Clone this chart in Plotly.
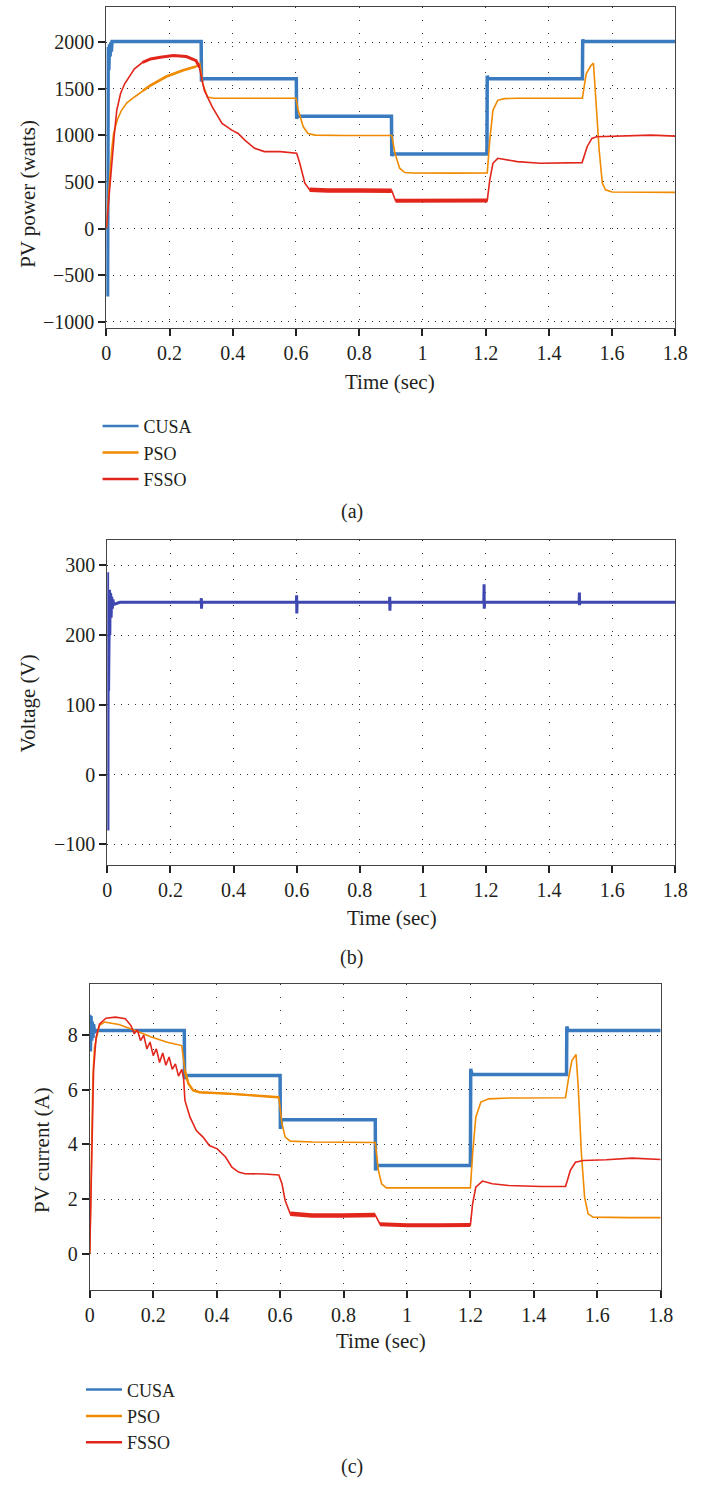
import plotly.graph_objects as go

# ---------------- data ----------------
series_names = ["CUSA", "PSO", "FSSO"]

# (a) PV power (W)
cusa_a_t = [0, 0.004, 0.006, 0.008, 0.010, 0.012, 0.014, 0.016, 0.018, 0.020, 0.300, 0.301, 0.304,
            0.601, 0.602, 0.605, 0.902, 0.903, 0.906, 1.204, 1.205, 1.208, 1.506, 1.507, 1.510, 1.800]
cusa_a_p = [0, -730, 1950, 1700, 1980, 1850, 2000, 1900, 2010, 2010, 2010, 1580, 1610,
            1610, 1180, 1205, 1205, 780, 800, 800, 1640, 1610, 1610, 2030, 2010, 2010]

pso_a_t = [0, 0.005, 0.010, 0.017, 0.023, 0.035, 0.048, 0.065, 0.089, 0.115, 0.14, 0.19, 0.243, 0.284,
           0.296, 0.305, 0.32, 0.34, 0.45, 0.600, 0.607, 0.623, 0.638, 0.66, 0.75, 0.903, 0.913, 0.928,
           0.944, 0.97, 1.1, 1.205, 1.213, 1.223, 1.238, 1.259, 1.3, 1.4, 1.506, 1.518, 1.533, 1.541,
           1.549, 1.559, 1.569, 1.579, 1.6, 1.7, 1.8]
pso_a_p = [0, 250, 550, 850, 1021, 1170, 1270, 1350, 1413, 1480, 1537, 1633, 1700, 1740,
           1770, 1555, 1413, 1400, 1402, 1400, 1270, 1093, 1021, 1003, 1000, 1000, 808, 648,
           601, 596, 595, 598, 950, 1270, 1377, 1395, 1400, 1400, 1400, 1662, 1750, 1776,
           1377, 843, 488, 416, 392, 388, 388]

fsso_a_t = [0, 0.008, 0.017, 0.025, 0.033, 0.045, 0.058, 0.075, 0.089, 0.115, 0.14, 0.171, 0.212, 0.253,
            0.284, 0.294, 0.31, 0.335, 0.366, 0.397, 0.417, 0.438, 0.469, 0.5, 0.55, 0.602, 0.612, 0.628,
            0.643, 0.7, 0.8, 0.903, 0.915, 1.0, 1.1, 1.205, 1.213, 1.223, 1.238, 1.259, 1.3, 1.372, 1.505,
            1.521, 1.536, 1.551, 1.6, 1.682, 1.723, 1.8]
fsso_a_p = [0, 350, 665, 1000, 1270, 1450, 1555, 1650, 1715, 1786, 1822, 1840, 1858, 1847,
            1804, 1733, 1484, 1306, 1128, 1057, 1021, 950, 861, 826, 826, 808, 701, 488,
            416, 409, 409, 405, 299, 300, 300, 300, 523, 701, 754, 744, 719, 701, 708,
            879, 968, 986, 990, 993, 1003, 993]

# (b) Voltage (V)
volt_t = [0, 0.001, 0.002, 0.003, 0.004, 0.005, 0.006, 0.007, 0.008, 0.009, 0.010, 0.011, 0.012,
          0.014, 0.016, 0.018, 0.020, 0.040,
          0.297, 0.298, 0.2985, 0.2995,
          0.599, 0.600, 0.6005, 0.6015,
          0.894, 0.895, 0.8955, 0.8965,
          1.193, 1.194, 1.1945, 1.1955,
          1.495, 1.496, 1.4965, 1.4975, 1.800]
volt_v = [0, 290, -80, 250, 120, 262, 180, 265, 200, 260, 212, 258, 225,
          255, 238, 251, 244, 247,
          247, 253, 238, 247,
          247, 257, 231, 247,
          247, 255, 235, 247,
          247, 273, 238, 247,
          247, 261, 243, 247, 247]

# (c) PV current (A)
cusa_c_t = [0, 0.002, 0.004, 0.006, 0.008, 0.010, 0.012, 0.015, 0.020, 0.298, 0.299, 0.303,
            0.600, 0.601, 0.605, 0.900, 0.901, 0.905, 1.200, 1.201, 1.205, 1.503, 1.504, 1.508, 1.800]
cusa_c_i = [8.75, 7.4, 8.7, 7.8, 8.5, 7.9, 8.4, 8.1, 8.17, 8.17, 6.4, 6.52,
            6.52, 4.57, 4.9, 4.9, 3.05, 3.23, 3.23, 6.77, 6.56, 6.56, 8.32, 8.17, 8.17]

pso_c_t = [0, 0.005, 0.010, 0.015, 0.03, 0.046, 0.092, 0.143, 0.194, 0.244, 0.29, 0.3, 0.311, 0.326,
           0.346, 0.448, 0.55, 0.596, 0.606, 0.616, 0.632, 0.703, 0.9, 0.91, 0.92, 0.935, 1.0, 1.2,
           1.207, 1.217, 1.233, 1.258, 1.32, 1.5, 1.51, 1.52, 1.533, 1.54, 1.55, 1.56, 1.571, 1.587,
           1.7, 1.8]
pso_c_i = [0, 4.27, 6.5, 7.56, 8.35, 8.48, 8.39, 8.17, 7.93, 7.74, 7.62, 6.7, 6.22, 5.98,
           5.91, 5.85, 5.76, 5.73, 4.76, 4.27, 4.12, 4.09, 4.07, 3.05, 2.56, 2.41, 2.41, 2.41,
           3.66, 5.0, 5.55, 5.67, 5.7, 5.71, 6.46, 7.07, 7.29, 6.1, 3.66, 2.07, 1.46, 1.34,
           1.32, 1.32]

fsso_c_t = [0, 0.005, 0.012, 0.02, 0.031, 0.051, 0.081, 0.112, 0.13, 0.14, 0.15, 0.16, 0.17, 0.18,
            0.19, 0.2, 0.21, 0.22, 0.23, 0.24, 0.25, 0.26, 0.27, 0.28, 0.29, 0.296, 0.3, 0.316,
            0.336, 0.357, 0.377, 0.402, 0.428, 0.448, 0.469, 0.489, 0.55, 0.596, 0.606, 0.616,
            0.632, 0.7, 0.8, 0.9, 0.915, 1.0, 1.1, 1.2, 1.207, 1.217, 1.238, 1.269, 1.32, 1.423,
            1.5, 1.515, 1.531, 1.556, 1.628, 1.71, 1.8]
fsso_c_i = [0, 3.05, 6.71, 7.93, 8.41, 8.62, 8.66, 8.6, 8.35, 8.05, 8.2, 7.8, 8.0, 7.5,
            7.75, 7.25, 7.5, 7.0, 7.35, 6.9, 7.2, 6.75, 6.95, 6.5, 6.75, 6.4, 5.61, 5.0,
            4.51, 4.27, 3.96, 3.84, 3.54, 3.17, 2.99, 2.93, 2.92, 2.88, 2.56, 1.95,
            1.46, 1.4, 1.4, 1.42, 1.08, 1.04, 1.04, 1.05, 1.83, 2.44, 2.66, 2.56, 2.5, 2.46,
            2.46, 3.05, 3.35, 3.41, 3.44, 3.5, 3.45]

x_tickvals = [0, 0.2, 0.4, 0.6, 0.8, 1.0, 1.2, 1.4, 1.6, 1.8]
x_ticktext = ["0", "0.2", "0.4", "0.6", "0.8", "1", "1.2", "1.4", "1.6", "1.8"]
ya_ticks = [-1000, -500, 0, 500, 1000, 1500, 2000]
yb_ticks = [-100, 0, 100, 200, 300]
yc_ticks = [0, 2, 4, 6, 8]

# ---------------- style ----------------
W, H = 701, 1488
FONT = "Liberation Serif"
TXT = "#231f20"
C_BLUE = "#3a7bc0"
C_ORANGE = "#f08a00"
C_RED = "#e2261c"
C_VOLT = "#3f47b0"
COLORS = [C_BLUE, C_ORANGE, C_RED]

def px_x(p):
    return p / W

def px_y(p):
    return 1 - p / H

fig = go.Figure()

def add_line(t, y, color, width, xa, ya, name):
    fig.add_trace(go.Scatter(x=t, y=y, mode="lines", name=name, xaxis=xa, yaxis=ya,
                             line=dict(color=color, width=width), showlegend=False,
                             hoverinfo="skip"))

def add_band(t, y, lo, hi, color, width, xa, ya, name):
    sel = [(a, b) for a, b in zip(t, y) if lo <= a <= hi]
    add_line([s[0] for s in sel], [s[1] for s in sel], color, width, xa, ya, name)

def add_legend_entries(xa, ya, legend):
    for nm, col in zip(series_names, COLORS):
        fig.add_trace(go.Scatter(x=[None], y=[None], mode="lines", name=nm, xaxis=xa, yaxis=ya,
                                 line=dict(color=col, width=2.5), legend=legend, showlegend=True,
                                 hoverinfo="skip"))

# panel (a)
add_line(cusa_a_t, cusa_a_p, C_BLUE, 3.5, "x", "y", series_names[0])
add_line(pso_a_t, pso_a_p, C_ORANGE, 1.6, "x", "y", series_names[1])
add_line(fsso_a_t, fsso_a_p, C_RED, 1.6, "x", "y", series_names[2])
add_band(pso_a_t, pso_a_p, 0.1, 0.29, C_ORANGE, 2.6, "x", "y", series_names[1])
add_band(fsso_a_t, fsso_a_p, 0.11, 0.294, C_RED, 3, "x", "y", series_names[2])
add_band(fsso_a_t, fsso_a_p, 0.643, 0.903, C_RED, 4.5, "x", "y", series_names[2])
add_band(fsso_a_t, fsso_a_p, 0.915, 1.205, C_RED, 4, "x", "y", series_names[2])
add_legend_entries("x", "y", "legend")

# panel (b)
add_line(volt_t, volt_v, C_VOLT, 3, "x2", "y2", "Voltage")

# panel (c)
add_line(cusa_c_t, cusa_c_i, C_BLUE, 3.5, "x3", "y3", series_names[0])
add_line(pso_c_t, pso_c_i, C_ORANGE, 1.6, "x3", "y3", series_names[1])
add_line(fsso_c_t, fsso_c_i, C_RED, 1.6, "x3", "y3", series_names[2])
add_band(pso_c_t, pso_c_i, 0.3, 0.6, C_ORANGE, 2.4, "x3", "y3", series_names[1])
add_band(fsso_c_t, fsso_c_i, 0.632, 0.9, C_RED, 4.5, "x3", "y3", series_names[2])
add_band(fsso_c_t, fsso_c_i, 0.915, 1.2, C_RED, 4, "x3", "y3", series_names[2])
add_legend_entries("x3", "y3", "legend2")

tickfont = dict(family=FONT, size=20, color=TXT)

def xaxis(dom_l, dom_r, anchor):
    return dict(domain=[px_x(dom_l), px_x(dom_r)], anchor=anchor, range=[0, 1.8],
                tickvals=x_tickvals, ticktext=x_ticktext, tickfont=tickfont,
                ticks="outside", ticklen=7, tickwidth=1.6, tickcolor="#222",
                showline=True, linecolor="#444", linewidth=1.2, mirror=True,
                showgrid=True, gridcolor="#333", gridwidth=1, griddash="1px,12px",
                zeroline=False)

def yaxis(top, bot, anchor, rng, ticks):
    return dict(domain=[px_y(bot), px_y(top)], anchor=anchor, range=rng,
                tickvals=ticks, tickfont=tickfont,
                ticks="outside", ticklen=7, tickwidth=1.6, tickcolor="#222",
                showline=True, linecolor="#444", linewidth=1.2, mirror=True,
                showgrid=True, gridcolor="#333", gridwidth=1, griddash="1px,6px",
                zeroline=False)

fig.update_layout(
    width=W, height=H, margin=dict(l=0, r=0, t=0, b=0),
    paper_bgcolor="white", plot_bgcolor="white",
    xaxis=xaxis(104, 688, "y"),
    yaxis=yaxis(7, 329, "x", [-1070, 2380], ya_ticks),
    xaxis2=xaxis(105, 688, "y2"),
    yaxis2=yaxis(541, 867, "x2", [-129, 337], yb_ticks),
    xaxis3=xaxis(87, 673, "y3"),
    yaxis3=yaxis(987, 1293, "x3", [-1.31, 9.86], yc_ticks),
    legend=dict(x=px_x(95), y=px_y(409), xanchor="left", yanchor="top",
                font=dict(family=FONT, size=18, color=TXT), bgcolor="rgba(0,0,0,0)",
                tracegroupgap=0, itemwidth=36),
    legend2=dict(x=px_x(78), y=px_y(1375), xanchor="left", yanchor="top",
                 font=dict(family=FONT, size=18, color=TXT), bgcolor="rgba(0,0,0,0)",
                 tracegroupgap=0, itemwidth=36),
    showlegend=True,
)

def label(text, x, y, angle=0, size=20):
    fig.add_annotation(text=text, x=px_x(x), y=px_y(y), xref="paper", yref="paper",
                       showarrow=False, textangle=angle, xanchor="center", yanchor="middle",
                       font=dict(family=FONT, size=size, color=TXT))

label("Time (sec)", 395, 383, size=21)
label("Time (sec)", 397, 920, size=21)
label("Time (sec)", 386, 1345, size=21)
label("PV power (watts)", 24, 194, -90, 21)
label("Voltage (V)", 24, 705, -90, 21)
label("PV current (A)", 38, 1153, -90, 21)
label("(a)", 356, 513)
label("(b)", 356, 960)
label("(c)", 356, 1470)

fig.write_html("out.html")
